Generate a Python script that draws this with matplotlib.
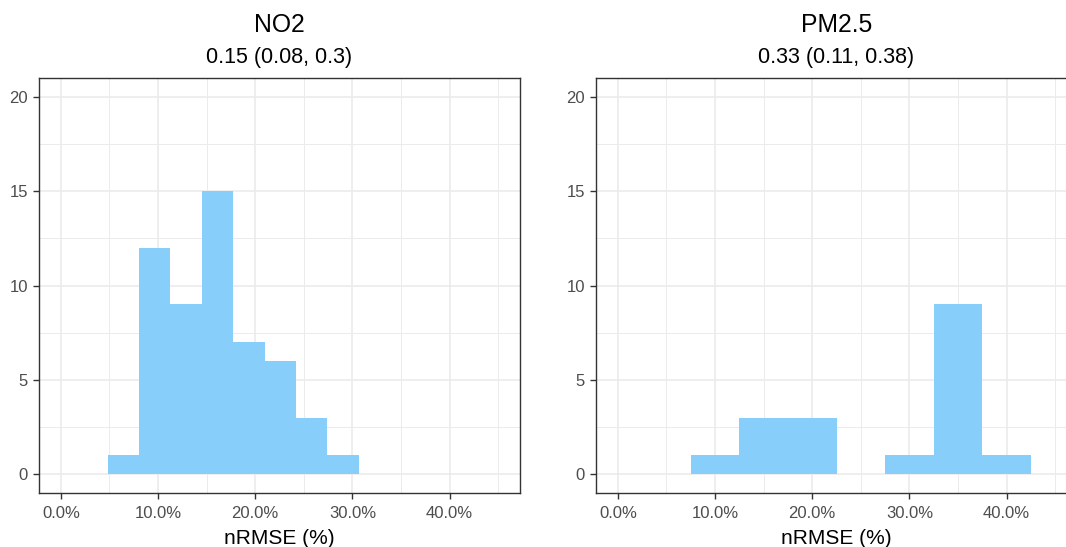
import matplotlib
matplotlib.use("Agg")
import matplotlib.pyplot as plt
from matplotlib.ticker import FuncFormatter, MultipleLocator

plt.rcParams["font.family"] = ["Liberation Sans", "DejaVu Sans"]

# Histogram bins (nRMSE as a fraction) and counts per pollutant
no2_edges = [0.0482, 0.0805, 0.1128, 0.1451, 0.1774, 0.2097, 0.2420, 0.2743, 0.3066]
no2_counts = [1, 12, 9, 15, 7, 6, 3, 1]

pm25_edges = [0.075, 0.125, 0.175, 0.225, 0.275, 0.325, 0.375, 0.425]
pm25_counts = [1, 3, 3, 0, 1, 9, 1]

titles = ["NO2", "PM2.5"]
subtitles = ["0.15 (0.08, 0.3)", "0.33 (0.11, 0.38)"]
x_ticks = [0.0, 0.1, 0.2, 0.3, 0.4]
y_ticks = [0, 5, 10, 15, 20]
x_label = "nRMSE (%)"

W, H = 1066, 547
fig = plt.figure(figsize=(W / 100, H / 100), dpi=100)
fig.patch.set_facecolor("white")

panel_w = 481 / W
panel_b = 1 - 493 / H
panel_h = (493 - 78) / H
lefts = [39 / W, 596 / W]

fill = "#87CEFA"
grid_c = "#EBEBEB"
border_c = "#333333"
tick_c = "#4D4D4D"

datasets = [(no2_edges, no2_counts), (pm25_edges, pm25_counts)]

for i, (edges, counts) in enumerate(datasets):
    ax = fig.add_axes([lefts[i], panel_b, panel_w, panel_h])
    ax.set_facecolor("white")
    ax.set_xlim(-0.0225, 0.4725)
    ax.set_ylim(-1, 21)

    ax.xaxis.set_minor_locator(MultipleLocator(0.05))
    ax.yaxis.set_minor_locator(MultipleLocator(2.5))
    ax.set_xticks(x_ticks)
    ax.set_yticks(y_ticks)
    ax.xaxis.set_major_formatter(FuncFormatter(lambda v, p: f"{v * 100:.1f}%"))
    ax.yaxis.set_major_formatter(FuncFormatter(lambda v, p: f"{v:.0f}"))

    ax.grid(which="major", color=grid_c, linewidth=1.2, zorder=0)
    ax.grid(which="minor", color=grid_c, linewidth=0.7, zorder=0)
    ax.set_axisbelow(True)

    widths = [edges[k + 1] - edges[k] for k in range(len(counts))]
    ax.bar(edges[:-1], counts, width=widths, align="edge", color=fill,
           edgecolor="none", linewidth=0, zorder=2)

    for s in ax.spines.values():
        s.set_color(border_c)
        s.set_linewidth(1.0)

    ax.tick_params(axis="x", which="major", pad=5.5)
    ax.tick_params(axis="y", which="major", pad=4)
    ax.tick_params(which="major", direction="out", length=4, width=1.0,
                   color=border_c, labelcolor=tick_c, labelsize=12)
    ax.tick_params(which="minor", length=0)

    ax.set_xlabel(x_label, fontsize=15, color="black", labelpad=5.5)

    cx = (39 + 481 / 2) / W if i == 0 else (596 + 481 / 2) / W
    fig.text(cx, 1 - 32.5 / H, titles[i], ha="center", va="baseline",
             fontsize=17.8, color="black")
    fig.text(cx, 1 - 63.5 / H, subtitles[i], ha="center", va="baseline",
             fontsize=15.5, color="black")

fig.savefig("out.png", dpi=100, facecolor="white")
